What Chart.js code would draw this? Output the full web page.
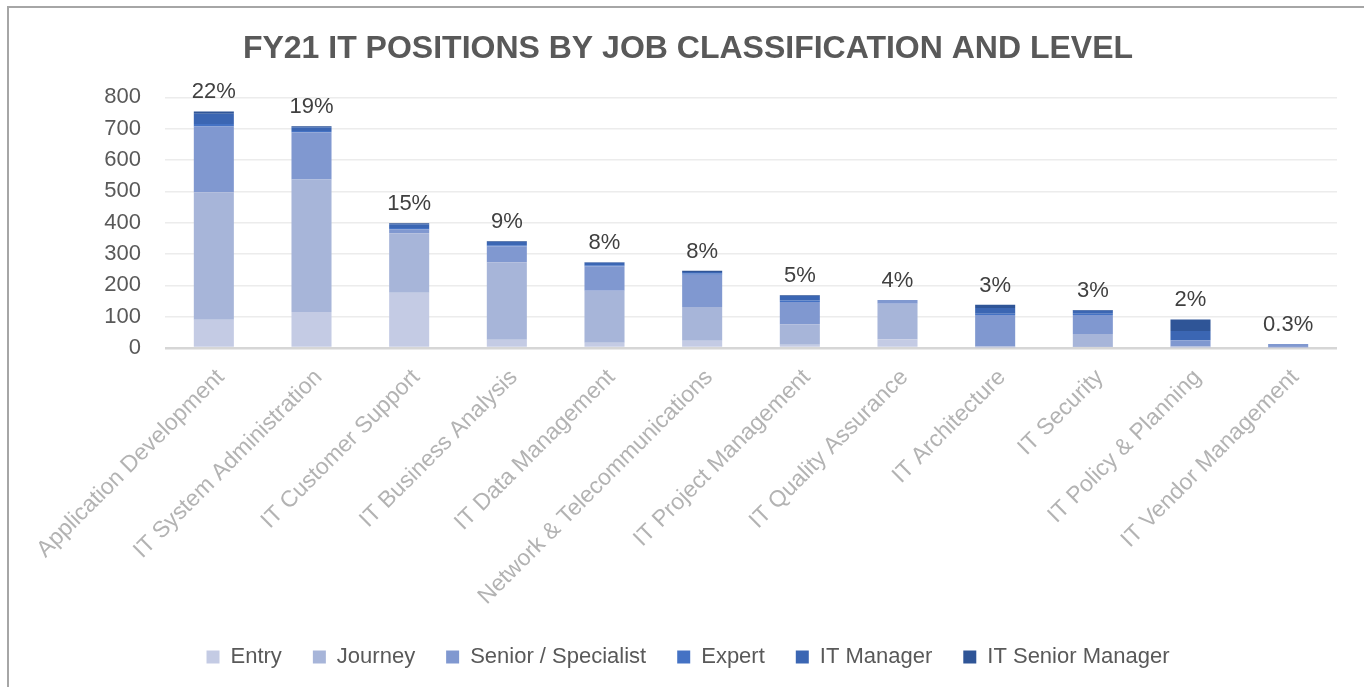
<!DOCTYPE html>
<html>
<head>
<meta charset="utf-8">
<script src="https://cdn.jsdelivr.net/npm/chart.js@4"></script>
<style>
  body { margin: 0; background: #fff; }
  #wrap { position: relative; width: 1364px; height: 687px; }
  #frame { position: absolute; left: 7px; top: 6px; right: 0; bottom: 0; border-top: 2px solid #a6a6a6; border-left: 2px solid #a6a6a6; pointer-events: none; }
</style>
</head>
<body>
<div id="wrap">
  <canvas id="chart" width="1364" height="687"></canvas>
  <div id="frame"></div>
</div>
<script>
// Chart data
const categories = [
  'Application Development', 'IT System Administration', 'IT Customer Support',
  'IT Business Analysis', 'IT Data Management', 'Network & Telecommunications',
  'IT Project Management', 'IT Quality Assurance', 'IT Architecture',
  'IT Security', 'IT Policy & Planning', 'IT Vendor Management'
];
const entry         = [90, 115, 176, 26, 17, 23, 10, 28, 2, 3, 2, 0];
const journey       = [407, 423, 190, 248, 166, 108, 66, 113, 3, 42, 3, 2];
const seniorSpec    = [210, 151, 12, 51, 78, 103, 71, 12, 100, 60, 20, 11];
const expert        = [8, 4, 5, 3, 3, 4, 5, 0, 4, 4, 0, 0];
const itManager     = [33, 12, 12, 10, 8, 5, 14, 0, 19, 10, 29, 0];
const itSeniorMgr   = [7, 3, 3, 3, 2, 4, 2, 0, 10, 2, 37, 0];
const shareLabels   = ['22%', '19%', '15%', '9%', '8%', '8%', '5%', '4%', '3%', '3%', '2%', '0.3%'];

const FONT = "'Liberation Sans', Arial, sans-serif";

// writes the share label above each stacked column
const shareLabelPlugin = {
  id: 'shareLabels',
  afterDatasetsDraw(chart) {
    const ctx = chart.ctx;
    const yScale = chart.scales.y;
    const meta = chart.getDatasetMeta(0);
    ctx.save();
    ctx.font = '22px ' + FONT;
    ctx.fillStyle = '#404040';
    ctx.textAlign = 'center';
    ctx.textBaseline = 'alphabetic';
    categories.forEach((cat, i) => {
      const total = chart.data.datasets.reduce((sum, ds) => sum + ds.data[i], 0);
      const x = meta.data[i].x;
      const y = yScale.getPixelForValue(total);
      ctx.fillText(shareLabels[i], x, y - 13);
    });
    ctx.restore();
  }
};

const series = [
  { label: 'Entry', data: entry, color: '#c4cbe4' },
  { label: 'Journey', data: journey, color: '#a7b5d9' },
  { label: 'Senior / Specialist', data: seniorSpec, color: '#8098d0' },
  { label: 'Expert', data: expert, color: '#4472c4' },
  { label: 'IT Manager', data: itManager, color: '#3b66b3' },
  { label: 'IT Senior Manager', data: itSeniorMgr, color: '#2f5597' }
];

new Chart(document.getElementById('chart'), {
  type: 'bar',
  data: {
    labels: categories,
    datasets: series.map(s => ({
      label: s.label,
      data: s.data,
      backgroundColor: s.color,
      borderWidth: 0,
      barPercentage: 0.41,
      categoryPercentage: 1
    }))
  },
  options: {
    responsive: false,
    animation: false,
    layout: { padding: { left: 39, right: 27, top: 0, bottom: 9 } },
    plugins: {
      title: {
        display: true,
        text: 'FY21 IT POSITIONS BY JOB CLASSIFICATION AND LEVEL',
        color: '#595959',
        font: { family: FONT, size: 32, weight: 'bold' },
        padding: { top: 30, bottom: 29 }
      },
      legend: {
        position: 'bottom',
        labels: {
          color: '#595959',
          font: { family: FONT, size: 22 },
          boxWidth: 13,
          boxHeight: 13,
          padding: 31
        }
      },
      tooltip: { enabled: false }
    },
    scales: {
      x: {
        stacked: true,
        grid: { display: false },
        border: { display: false },
        ticks: {
          color: '#b3b3b3',
          font: { family: FONT, size: 23 },
          minRotation: 45,
          maxRotation: 45,
          autoSkip: false,
          padding: 8,
          labelOffset: 7
        },
        afterFit(scale) { scale.height = 267; }
      },
      y: {
        stacked: true,
        min: 0,
        max: 800,
        border: { display: false },
        grid: {
          drawTicks: false,
          color: ctx => ctx.tick && ctx.tick.value === 0 ? '#d6d6d6' : '#ececec',
          lineWidth: ctx => ctx.tick && ctx.tick.value === 0 ? 2.5 : 1.5
        },
        ticks: {
          stepSize: 100,
          color: '#595959',
          font: { family: FONT, size: 22 },
          padding: 24
        },
        afterFit(scale) { scale.width = 126; }
      }
    }
  },
  plugins: [shareLabelPlugin]
});
</script>
</body>
</html>
